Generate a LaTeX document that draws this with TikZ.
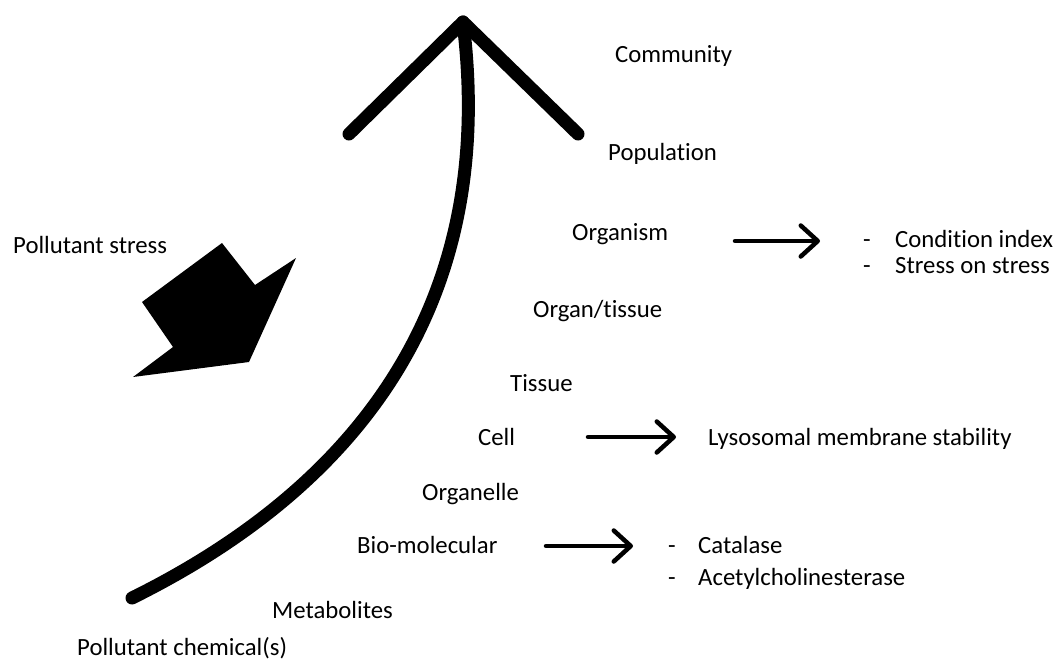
\documentclass[tikz,border=0pt]{standalone}
\usepackage{fontspec}
\setmainfont{Carlito}[Ligatures=NoCommon]
\usetikzlibrary{arrows.meta}
\begin{document}
\begin{tikzpicture}[x=1pt,y=-1pt,
  lbl/.style={anchor=base west,inner sep=0pt,font=\fontsize{24.75}{28}\selectfont},
  small/.style={line width=4.5pt,-{Straight Barb[length=17pt,width=31pt,line cap=round,line join=round]},line cap=round},
  big/.style={line width=13pt,line cap=round,line join=round}]
\useasboundingbox (0,0) rectangle (1057,662);
% levels
\node[lbl] (community) at (615,62) {Community};
\node[lbl] (population) at (608,160) {Population};
\node[lbl] (organism) at (572,240) {Organism};
\node[lbl] (organtissue) at (533,317) {Organ/tissue};
\node[lbl] (tissue) at (510,391) {Tissue};
\node[lbl] (cell) at (478,445) {Cell};
\node[lbl] (organelle) at (422,500) {Organelle};
\node[lbl] (biomol) at (357,553) {Bio-molecular};
\node[lbl] (metab) at (272,618) {Metabolites};
\node[lbl] (chem) at (77,655) {Pollutant chemical(s)};
\node[lbl] (stress) at (13,253) {Pollutant stress};
% outcomes
\node[lbl] (d1) at (863,247) {-};
\node[lbl] (ci) at (895,247) {Condition index};
\node[lbl] (d2) at (863,273) {-};
\node[lbl] (sos) at (895,273) {Stress on stress};
\node[lbl] (lms) at (708,445) {Lysosomal membrane stability};
\node[lbl] (d3) at (668,553) {-};
\node[lbl] (cat) at (698,553) {Catalase};
\node[lbl] (d4) at (668,585) {-};
\node[lbl] (ache) at (698,585) {Acetylcholinesterase};
% small arrows
\coordinate (a1s) at (735,241); \coordinate (a1e) at (820,241);
\coordinate (a2s) at (588,437); \coordinate (a2e) at (676,437);
\coordinate (a3s) at (546,546); \coordinate (a3e) at (633,546);
\draw[small] (a1s) -- (a1e);
\draw[small] (a2s) -- (a2e);
\draw[small] (a3s) -- (a3e);
% big curved arrow
\coordinate (cs) at (132,598);
\coordinate (tip) at (463,22);
\coordinate (hl) at (349,134);
\coordinate (hr) at (578,134);
\draw[big] (cs) .. controls (340,495) and (500,320) .. (tip);
\draw[big] (hl) -- (tip) -- (hr);
% pollutant stress block arrow
\fill (222,243) -- (255,285) -- (296,258) -- (249,362) -- (133,377) -- (173,347) -- (142,302) -- cycle;
\end{tikzpicture}
\end{document}
